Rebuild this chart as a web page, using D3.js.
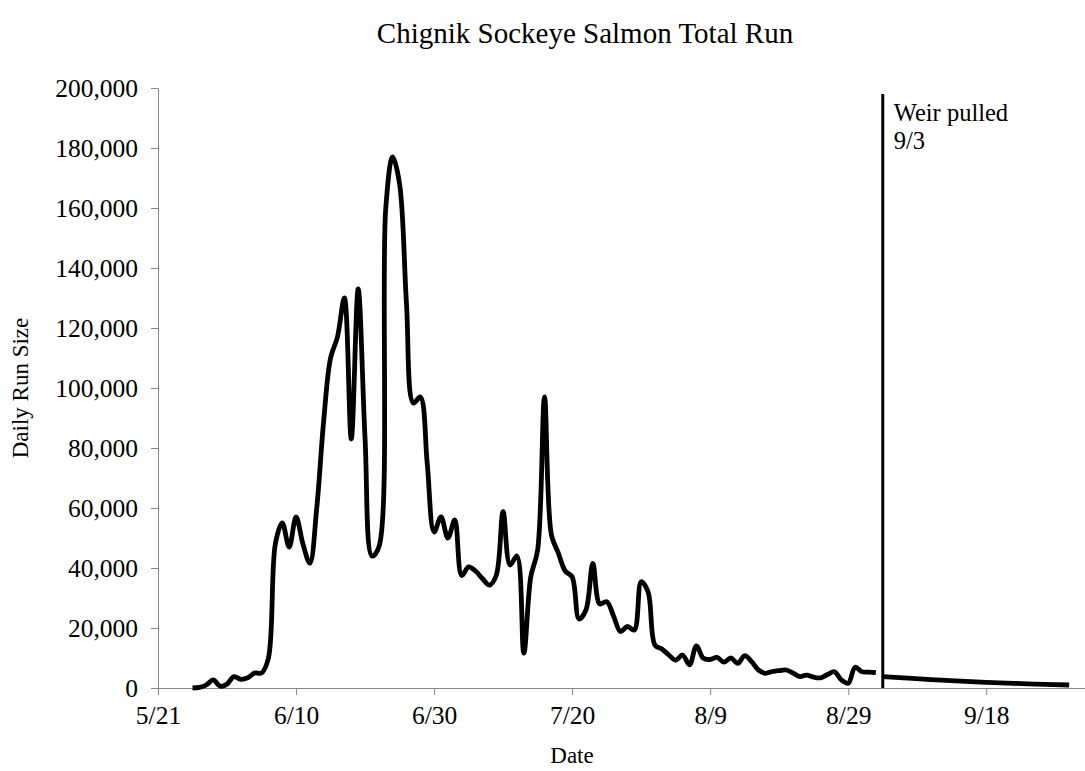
<!DOCTYPE html>
<html>
<head>
<meta charset="utf-8">
<script src="https://cdn.jsdelivr.net/npm/d3@7"></script>
<style>
  body { margin: 0; background: #fff; }
  svg text { font-family: "Liberation Serif", "Times New Roman", serif; fill: #000; }
</style>
</head>
<body>
<svg id="chart" width="1085" height="771"></svg>
<script>
// ---- data ----
const year = 2020;
const runStart = "5/26";            // first daily count
// daily run size (thousands of fish), one value per day from 5/26 to 9/2
const dailyRun = [
  0, 0.2, 1.0, 2.7, 0.6, 1.3, 3.8, 2.9, 3.4, 5.0,
  5.0, 10, 48, 55, 47, 57, 48, 41.6, 60, 89,
  110, 117, 130, 83, 133, 83, 44, 47, 160, 177,
  168, 128, 95, 97, 75, 52, 57, 50, 56, 37.5,
  40.4, 39, 36.5, 34.3, 37.5, 58.8, 41, 44, 11.6, 37,
  46, 97, 51, 45, 39, 37, 23, 26, 41.5, 28,
  28.8, 24, 18.8, 20.5, 19.3, 35.4, 32, 14.3, 13, 11,
  9.3, 11, 7.7, 14, 9.9, 9.5, 10.2, 8.6, 10, 8.2,
  10.8, 8.8, 6, 4.9, 5.5, 5.8, 6, 5, 3.8, 4.3,
  3.6, 3.4, 4.5, 5.4, 2.7, 1.6, 6.9, 5.4, 5.3, 5.1
];
// estimated run after the weir was pulled
const postWeirDates = ["9/3", "9/10", "9/18", "9/24", "9/30"];
const postWeirRun = [3.8, 2.8, 1.9, 1.4, 1.0];
const weirDate = "9/3";
const weirLabels = ["Weir pulled", "9/3"];
const xTickLabels = ["5/21", "6/10", "6/30", "7/20", "8/9", "8/29", "9/18"];
const yTickValues = [0, 20000, 40000, 60000, 80000, 100000, 120000, 140000, 160000, 180000, 200000];
const xDomainLabels = ["5/21", "10/2"];

// ---- helpers ----
const parseMD = s => { const [m, d] = s.split("/").map(Number); return new Date(year, m - 1, d); };
const DAY = 86400000;

const startDate = parseMD(runStart);
const runData = dailyRun.map((v, i) => ({ date: new Date(startDate.getTime() + i * DAY), value: v * 1000 }));
const postData = postWeirDates.map((s, i) => ({ date: parseMD(s), value: postWeirRun[i] * 1000 }));

const svg = d3.select("#chart");
const margin = { left: 158, right: 0, top: 88, bottom: 83 };
const W = 1085, H = 771;

const x = d3.scaleTime()
  .domain([parseMD(xDomainLabels[0]), new Date(parseMD(xDomainLabels[1]).getTime() + 0.3 * DAY)])
  .range([margin.left, W - margin.right]);
const y = d3.scaleLinear().domain([0, 200000]).range([H - margin.bottom, margin.top]);

const axisColor = "#868686";

// y axis
const yAxis = svg.append("g")
  .attr("transform", `translate(${margin.left},0)`)
  .call(d3.axisLeft(y).tickValues(yTickValues).tickSize(7).tickSizeOuter(0).tickPadding(13)
    .tickFormat(d3.format(",")));
yAxis.selectAll("text").style("font-size", "25.5px").style("font-family", "Liberation Serif");
yAxis.selectAll("line, path").attr("stroke", axisColor);

// x axis
const xAxis = svg.append("g")
  .attr("transform", `translate(0,${H - margin.bottom})`)
  .call(d3.axisBottom(x).tickValues(xTickLabels.map(parseMD)).tickSize(7).tickSizeOuter(0).tickPadding(11)
    .tickFormat(d => (d.getMonth() + 1) + "/" + d.getDate()));
xAxis.selectAll("text").style("font-size", "25.5px").style("font-family", "Liberation Serif");
xAxis.selectAll("line, path").attr("stroke", axisColor);

// lines
const line = d3.line()
  .x(d => x(d.date)).y(d => y(d.value))
  .curve(d3.curveCatmullRom.alpha(0.5));

svg.append("path").datum(runData)
  .attr("d", line).attr("fill", "none").attr("stroke", "#000")
  .attr("stroke-width", 4.8).attr("stroke-linejoin", "round").attr("stroke-linecap", "butt");

svg.append("path").datum(postData)
  .attr("d", line).attr("fill", "none").attr("stroke", "#000")
  .attr("stroke-width", 4.8).attr("stroke-linecap", "butt");

// weir line
const wx = x(parseMD(weirDate));
svg.append("line")
  .attr("x1", wx).attr("x2", wx)
  .attr("y1", y(198000)).attr("y2", y(0))
  .attr("stroke", "#000").attr("stroke-width", 3);

svg.selectAll("text.weir").data(weirLabels).join("text")
  .attr("class", "weir")
  .attr("x", wx + 11)
  .attr("y", (d, i) => 121 + i * 28)
  .style("font-size", "24.5px")
  .text(d => d);

// titles
svg.append("text").attr("x", 585).attr("y", 43).attr("text-anchor", "middle")
  .style("font-size", "29px").text("Chignik Sockeye Salmon Total Run");
svg.append("text").attr("x", 572).attr("y", 763).attr("text-anchor", "middle")
  .style("font-size", "23px").text("Date");
svg.append("text").attr("transform", "translate(28,388) rotate(-90)").attr("text-anchor", "middle")
  .style("font-size", "23px").text("Daily Run Size");
</script>
</body>
</html>
